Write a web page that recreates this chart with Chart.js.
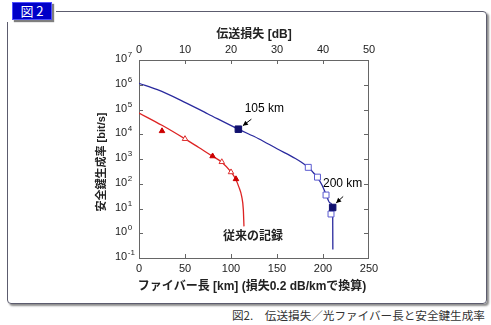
<!DOCTYPE html>
<html>
<head>
<meta charset="utf-8">
<script src="https://cdn.jsdelivr.net/npm/chart.js@4"></script>
<style>
html, body { margin: 0; padding: 0; background: #fff; }
body { width: 491px; height: 325px; position: relative; overflow: hidden; font-family: "Noto Sans CJK JP", sans-serif; }
#frame { position: absolute; left: 7px; top: 11px; width: 478px; height: 291px; border: 1px solid #5c5c6e; border-radius: 4px; box-shadow: 2px 2px 2px rgba(0,0,0,0.45); }
#tabbg { position: absolute; left: 4px; top: 0; width: 52px; height: 22px; background: #fff; }
#tab { position: absolute; left: 12px; top: 2px; width: 40px; height: 18px; box-sizing: border-box; background: #0000c8; border: 1px solid #5050ff; box-shadow: 2px 2px 1px rgba(0,0,0,0.5); color: #fff; font-size: 13px; line-height: 16px; text-align: center; }
#cap { position: absolute; left: 232px; top: 308px; font-size: 11.6px; line-height: 15px; color: #333; white-space: nowrap; }
canvas { position: absolute; left: 0; top: 0; }
</style>
</head>
<body>
<div id="frame"></div>
<div id="tabbg"></div>
<div id="tab">図 2</div>
<div id="cap">図2.　伝送損失／光ファイバー長と安全鍵生成率</div>
<canvas id="chart" width="491" height="325"></canvas>
<script>
// axis ticks
const kmTicks = [0, 50, 100, 150, 200, 250];
const dbTicks = [0, 10, 20, 30, 40, 50];
const rateExponents = [-1, 0, 1, 2, 3, 4, 5, 6, 7];

// new system (blue curve + markers)
const newKm = [0, 20, 45, 75, 108, 130, 150, 170, 177, 184, 189, 194, 199, 203.3, 207.6, 210.5, 210.6, 210.7];
const newRate = [1.15e6, 6.3e5, 2.4e5, 6.6e4, 1.6e4, 6.6e3, 2.6e3, 1.05e3, 720, 460, 295, 175, 87, 37, 17, 11, 2, 0.22];
const newOpenKm = [184, 194, 203.3, 208.7];
const newOpenRate = [460, 185, 35, 6];
const newMarkKm = [108, 210.5];
const newMarkRate = [1.6e4, 11];
const newMarkLabels = ['105 km', '200 km'];

// previous record (red curve + triangles)
const oldKm = [0, 25, 50, 65, 80, 90, 100, 105, 108.5, 111.6, 113.4, 114.1];
const oldRate = [7.2e4, 2.3e4, 6.5e3, 2.9e3, 1.3e3, 740, 300, 155, 75, 31, 9, 1.9];
const oldFilledKm = [25, 80, 105.4];
const oldFilledRate = [1.35e4, 1.3e3, 155];
const oldOpenKm = [50, 90, 100];
const oldOpenRate = [6.5e3, 760, 295];
const oldLabel = '従来の記録';

const pts = (xs, ys) => xs.map((x, i) => ({ x, y: ys[i] }));

const numFont = '11px "Liberation Sans", Arial, sans-serif';
const jpFont = size => `bold ${size}px "Liberation Sans", "Noto Sans CJK JP", sans-serif`;

function arrow(ctx, x1, y1, x2, y2) {
  ctx.beginPath();
  ctx.moveTo(x1, y1);
  ctx.lineTo(x2, y2);
  ctx.stroke();
  const ang = Math.atan2(y2 - y1, x2 - x1), L = 5, W = 2.5;
  ctx.beginPath();
  ctx.moveTo(x2, y2);
  ctx.lineTo(x2 - L * Math.cos(ang) + W * Math.sin(ang), y2 - L * Math.sin(ang) - W * Math.cos(ang));
  ctx.lineTo(x2 - L * Math.cos(ang) - W * Math.sin(ang), y2 - L * Math.sin(ang) + W * Math.cos(ang));
  ctx.closePath();
  ctx.fill();
}

const axesPlugin = {
  id: 'axes',
  beforeDatasetsDraw(chart) {
    const { ctx, chartArea: a, scales: { x, x2, y } } = chart;
    ctx.save();
    ctx.strokeStyle = '#666';
    ctx.lineWidth = 1;
    ctx.strokeRect(a.left + 0.5, a.top + 0.5, a.right - a.left - 1, a.bottom - a.top);
    ctx.beginPath();
    kmTicks.slice(1, -1).forEach(v => {
      const px = Math.round(x.getPixelForValue(v)) + 0.5;
      ctx.moveTo(px, a.bottom); ctx.lineTo(px, a.bottom - 4);
    });
    dbTicks.slice(1, -1).forEach(v => {
      const px = Math.round(x2.getPixelForValue(v)) + 0.5;
      ctx.moveTo(px, a.top); ctx.lineTo(px, a.top + 4);
    });
    rateExponents.slice(1, -1).forEach(e => {
      const py = Math.round(y.getPixelForValue(Math.pow(10, e))) + 0.5;
      ctx.moveTo(a.left, py); ctx.lineTo(a.left + 4, py);
      ctx.moveTo(a.right - 1, py); ctx.lineTo(a.right - 5, py);
    });
    ctx.stroke();
    ctx.restore();
  },
  afterDraw(chart) {
    const { ctx, chartArea: a, scales: { x, x2, y } } = chart;
    ctx.save();
    ctx.fillStyle = '#222';
    ctx.font = numFont;
    ctx.textAlign = 'center';
    ctx.textBaseline = 'middle';
    kmTicks.forEach(v => ctx.fillText(String(v), x.getPixelForValue(v), a.bottom + 10.5));
    dbTicks.forEach(v => ctx.fillText(String(v), x2.getPixelForValue(v), a.top - 10));
    // 10^n labels
    ctx.textAlign = 'left';
    rateExponents.forEach(e => {
      const py = y.getPixelForValue(Math.pow(10, e));
      ctx.font = numFont;
      ctx.fillText('10', 115, py - 1);
      const w = ctx.measureText('10').width;
      ctx.font = '8px "Liberation Sans", Arial, sans-serif';
      ctx.fillText(String(e), 115 + w + 0.5, py - 5);
    });
    // titles
    ctx.textAlign = 'center';
    ctx.font = jpFont(12);
    ctx.fillText('伝送損失 [dB]', (a.left + a.right) / 2, 35);
    ctx.fillText('ファイバー長 [km] (損失0.2 dB/kmで換算)', (a.left + a.right) / 2 - 2, 287);
    ctx.save();
    ctx.translate(101.5, (a.top + a.bottom) / 2 + 3);
    ctx.rotate(-Math.PI / 2);
    ctx.font = jpFont(11);
    ctx.fillText('安全鍵生成率 [bit/s]', 0, 0);
    ctx.restore();
    // annotations
    const marks = chart.getDatasetMeta(1).data;
    ctx.strokeStyle = '#000';
    ctx.fillStyle = '#000';
    ctx.lineWidth = 1;
    ctx.font = '12px "Liberation Sans", Arial, sans-serif';
    const m1 = marks[0], m2 = marks[1];
    ctx.fillText(newMarkLabels[0], m1.x + 26, m1.y - 21);
    arrow(ctx, m1.x + 13, m1.y - 10, m1.x + 4.5, m1.y - 3.5);
    ctx.fillText(newMarkLabels[1], m2.x + 10, m2.y - 24);
    arrow(ctx, m2.x + 10.5, m2.y - 11, m2.x + 3.5, m2.y - 4.5);
    const oldLine = chart.getDatasetMeta(5).data;
    const end = oldLine[oldLine.length - 1];
    ctx.font = jpFont(12);
    ctx.fillStyle = '#222';
    ctx.fillText(oldLabel, end.x + 9, end.y + 10.5);
    ctx.restore();
  }
};

new Chart(document.getElementById('chart'), {
  type: 'scatter',
  data: {
    datasets: [
      { data: pts(newOpenKm, newOpenRate), pointStyle: 'rect', pointRadius: 4.2, borderColor: '#5a5ad0', backgroundColor: '#fff', borderWidth: 1, order: 1 },
      { data: pts(newMarkKm, newMarkRate), pointStyle: 'rect', pointRadius: 4.6, borderColor: '#10106e', backgroundColor: '#10106e', borderWidth: 1, order: 0 },
      { data: pts(oldFilledKm, oldFilledRate), pointStyle: 'triangle', pointRadius: 3.2, borderColor: '#cc0000', backgroundColor: '#cc0000', borderWidth: 1, order: 1 },
      { data: pts(oldOpenKm, oldOpenRate), pointStyle: 'triangle', pointRadius: 3.2, borderColor: '#dd3030', backgroundColor: '#fff', borderWidth: 1, order: 1 },
      { data: pts(newKm, newRate), showLine: true, pointRadius: 0, borderColor: '#2a2a9e', borderWidth: 1.3, cubicInterpolationMode: 'monotone', order: 2 },
      { data: pts(oldKm, oldRate), showLine: true, pointRadius: 0, borderColor: '#dd2222', borderWidth: 1.3, cubicInterpolationMode: 'monotone', order: 2 }
    ]
  },
  options: {
    responsive: false,
    devicePixelRatio: 1,
    animation: false,
    events: [],
    layout: { padding: { left: 139, right: 122, top: 60, bottom: 67 } },
    plugins: { legend: { display: false }, tooltip: { enabled: false } },
    scales: {
      x: { type: 'linear', min: 0, max: 250, display: false },
      x2: { type: 'linear', position: 'top', min: 0, max: 50, display: false },
      y: { type: 'logarithmic', min: 0.1, max: 1e7, display: false }
    }
  },
  plugins: [axesPlugin]
});
</script>
</body>
</html>
